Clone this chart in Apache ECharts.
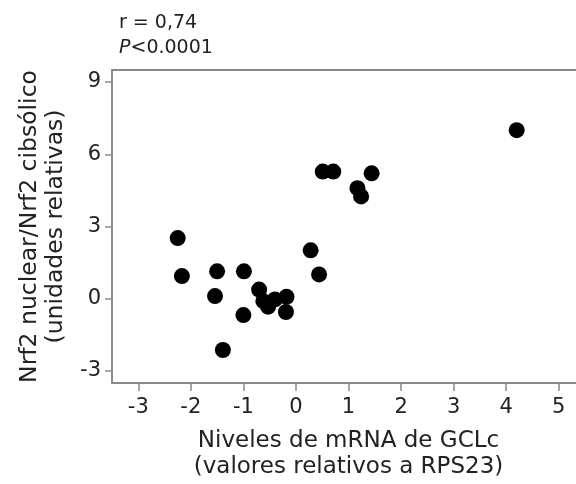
<!DOCTYPE html>
<html>
<head>
<meta charset="utf-8">
<script src="https://cdn.jsdelivr.net/npm/echarts@6/dist/echarts.min.js"></script>
<style>
  html, body { margin: 0; padding: 0; background: #fff; }
  #chart { width: 576px; height: 484px; }
</style>
</head>
<body>
<div id="chart"></div>
<script>
// Data
const xValues = [-2.25, -2.17, -1.50, -1.54, -0.99, -1.00, -1.39, -0.70, -0.62, -0.53, -0.40, -0.18, -0.19, 0.28, 0.44, 0.51, 0.71, 1.17, 1.24, 1.44, 4.20];
const yValues = [2.52, 0.94, 1.14, 0.11, 1.14, -0.68, -2.13, 0.38, -0.10, -0.33, -0.03, 0.08, -0.55, 2.01, 1.01, 5.28, 5.28, 4.59, 4.25, 5.21, 7.00];
const xTicks = [-3, -2, -1, 0, 1, 2, 3, 4, 5];
const yTicks = [-3, 0, 3, 6, 9];
const xTitle = 'Niveles de mRNA de GCLc\n(valores relativos a RPS23)';
const yTitle = 'Nrf2 nuclear/Nrf2 cibsólico\n(unidades relativas)';
const statLine1 = 'r = 0,74';
const statLine2P = 'P';
const statLine2Rest = '<0.0001';

const points = xValues.map((x, i) => [x, yValues[i]]);

const FONT = 'DejaVu Sans';
const axisColor = '#8a8a8a';
const textColor = '#222';

const chart = echarts.init(document.getElementById('chart'), null, { renderer: 'canvas' });
chart.setOption({
  animation: false,
  backgroundColor: '#fff',
  title: {
    left: 119,
    top: 11,
    padding: 0,
    text: statLine1 + '\n{i|' + statLine2P + '}' + statLine2Rest,
    textStyle: {
      fontFamily: FONT,
      fontSize: 19,
      fontWeight: 'normal',
      color: textColor,
      lineHeight: 25,
      rich: {
        i: { fontFamily: FONT, fontSize: 19, fontStyle: 'italic', color: textColor, lineHeight: 25 }
      }
    }
  },
  grid: { left: 112, top: 70, bottom: 101, right: -9, outerBoundsMode: 'none', containLabel: false, show: true, borderColor: axisColor, borderWidth: 2 },
  xAxis: {
    type: 'value',
    min: -3.5,
    max: 5.5,
    name: xTitle,
    nameLocation: 'middle',
    nameGap: 45,
    nameTextStyle: { fontFamily: FONT, fontSize: 23, color: textColor, lineHeight: 26 },
    splitLine: { show: false },
    axisLine: { show: true, onZero: false, lineStyle: { color: axisColor, width: 2 } },
    axisTick: { show: true, length: 8, customValues: xTicks, lineStyle: { color: axisColor, width: 1.5 } },
    axisLabel: { customValues: xTicks, fontFamily: FONT, fontSize: 21, color: textColor, margin: 14 }
  },
  yAxis: {
    type: 'value',
    min: -3.5,
    max: 9.5,
    name: yTitle,
    nameLocation: 'middle',
    nameRotate: 90,
    nameGap: 41,
    nameTextStyle: { fontFamily: FONT, fontSize: 23.5, color: textColor, lineHeight: 26 },
    splitLine: { show: false },
    axisLine: { show: true, onZero: false, lineStyle: { color: axisColor, width: 2 } },
    axisTick: { show: true, length: 7, customValues: yTicks, lineStyle: { color: axisColor, width: 1.5 } },
    axisLabel: { customValues: yTicks, fontFamily: FONT, fontSize: 21, color: textColor, margin: 11 }
  },
  series: [{
    type: 'scatter',
    data: points,
    symbol: 'circle',
    symbolSize: 16,
    itemStyle: { color: '#000', opacity: 1 }
  }]
});
</script>
</body>
</html>
